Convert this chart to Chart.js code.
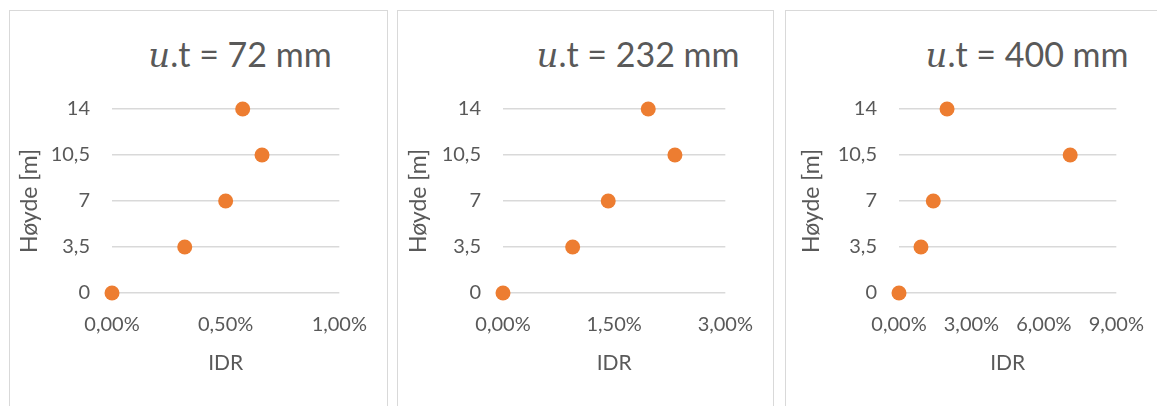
<!DOCTYPE html>
<html>
<head>
<meta charset="utf-8">
<script src="https://cdn.jsdelivr.net/npm/chart.js@4.4.1/dist/chart.umd.min.js"></script>
<style>
    html, body { margin: 0; padding: 0; background: #fff; overflow: hidden; }
    body { width: 1157px; height: 406px; position: relative; }
    .panel { position: absolute; top: 10px; height: 420px; border: 1px solid #d9d9d9; background: #fff; }
    .panel canvas { position: absolute; left: 0; top: 0; }
    .title {
        position: absolute; top: 25px; transform: translateX(-50%); white-space: nowrap;
        font-family: Lato, "Open Sans", sans-serif; font-size: 34px; line-height: 35px; color: #595959;
    }
    .title i { font-family: "DejaVu Serif", serif; font-style: italic; font-size: 34px; }
</style>
</head>
<body>
<div class="panel" id="p0" style="left:9px; width:377px;"><div class="title"></div><canvas width="377" height="395"></canvas></div>
<div class="panel" id="p1" style="left:397px; width:375px;"><div class="title"></div><canvas width="375" height="395"></canvas></div>
<div class="panel" id="p2" style="left:785px; width:378px;"><div class="title"></div><canvas width="378" height="395"></canvas></div>
<script>
document.addEventListener("DOMContentLoaded", () => {

    const heights = [0, 3.5, 7, 10.5, 14];
    const displacements = ["72", "232", "400"];
    const idr72 = [0, 0.32, 0.50, 0.66, 0.575];
    const idr232 = [0, 0.94, 1.42, 2.32, 1.96];
    const idr400 = [0, 0.91, 1.42, 7.09, 1.99];
    const xMax = [1, 3, 9];
    const xStep = [0.5, 1.5, 3];
    const series = [idr72, idr232, idr400];

    // layout per panel (canvas px)
    const plotLeft = [102, 105, 113];
    const plotRightPad = [46, 44, 46];
    const yTitleX = [20, 21, 26];
    const titleCenter = [230, 240, 241];

    const grey = '#595959';
    const comma = (v, d) => v.toFixed(d).replace('.', ',');

    series.forEach((idr, i) => {
        const panel = document.getElementById('p' + i);
        const title = panel.querySelector('.title');
        title.innerHTML = '<i>u</i>.t = ' + displacements[i] + ' mm';
        title.style.left = titleCenter[i] + 'px';

        const canvas = panel.querySelector('canvas');
        const H = canvas.height;

        new Chart(canvas.getContext('2d'), {
            type: 'scatter',
            data: {
                datasets: [{
                    label: 'IDR',
                    data: idr.map((x, k) => ({ x: x, y: heights[k] })),
                    backgroundColor: '#ED7D31',
                    borderWidth: 0,
                    pointRadius: 7.5,
                    pointHoverRadius: 7.5,
                    clip: false
                }]
            },
            options: {
                responsive: false,
                animation: false,
                layout: { padding: { top: 98, right: plotRightPad[i], left: 0, bottom: 0 } },
                plugins: { legend: { display: false }, tooltip: { enabled: false }, title: { display: false } },
                scales: {
                    x: {
                        min: 0, max: xMax[i],
                        border: { display: false },
                        grid: { display: false, drawTicks: false },
                        ticks: {
                            stepSize: xStep[i], padding: 20, color: grey,
                            font: { family: 'Lato', size: 20 },
                            callback: v => comma(v, 2) + '%'
                        },
                        title: {
                            display: true, text: 'IDR', color: grey,
                            font: { family: 'Lato', size: 21 },
                            padding: { top: 0, bottom: 30 }
                        },
                        afterFit: s => { s.height = H - 282; }
                    },
                    y: {
                        min: 0, max: 14,
                        border: { display: false },
                        grid: { color: '#d9d9d9', lineWidth: 1.5, drawTicks: false },
                        ticks: {
                            stepSize: 3.5, padding: 22, color: grey,
                            font: { family: 'Lato', size: 20 },
                            callback: v => Number.isInteger(v) ? String(v) : comma(v, 1)
                        },
                        title: {
                            display: true, text: 'Høyde [m]', color: grey,
                            font: { family: 'Lato', size: 23 },
                            padding: { top: yTitleX[i] - 13.8, bottom: 0 }
                        },
                        afterFit: s => { s.width = plotLeft[i]; }
                    }
                }
            }
        });
    });
});
</script>
</body>
</html>
